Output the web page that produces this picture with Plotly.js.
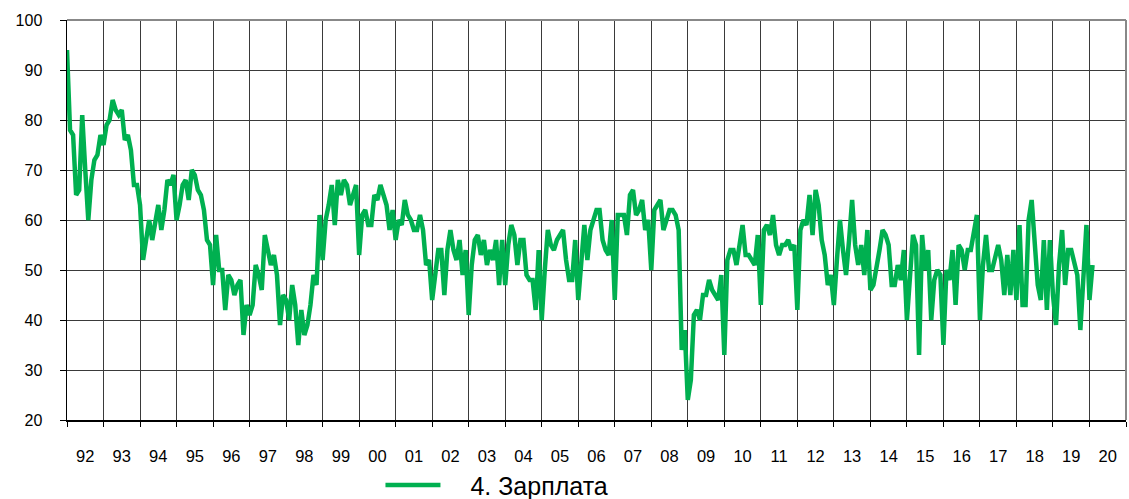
<!DOCTYPE html>
<html>
<head>
<meta charset="utf-8">
<script src="https://cdn.plot.ly/plotly-3.0.1.min.js"></script>
<style>html,body{margin:0;padding:0;background:#fff;}#chart{width:1129px;height:499px;}</style>
</head>
<body>
<div id="chart"></div>
<script>
// Year labels (category groups of 12 months each)
const yearLabels = ['92','93','94','95','96','97','98','99','00','01','02','03','04','05','06','07','08','09','10','11','12','13','14','15','16','17','18','19','20'];

// Monthly values, Jan 1992 .. Feb 2020
const salary = [
  // 1992
  94,78,77,65,66,81,70,60,68,72,73,77,
  // 1993
  75,79,80,84,82,81,82,76,77,74,67,67,
  // 1994
  63,52,56,60,56,60,63,58,62,68,67,69,
  // 1995
  60,63,67,68,64,70,69,66,65,62,56,55,
  // 1996
  47,57,50,50,42,49,48,45,47,48,37,43,
  // 1997
  41,43,51,49,46,57,54,51,53,49,39,45,
  // 1998
  44,40,47,43,35,42,37,39,43,49,47,61,
  // 1999
  52,60,63,67,59,68,65,68,67,63,65,67,
  // 2000
  53,61,62,59,59,65,64,67,65,63,58,62,
  // 2001
  56,60,59,64,61,60,58,58,61,58,51,52,
  // 2002
  44,50,54,54,45,54,58,54,52,56,49,54,
  // 2003
  41,51,56,57,53,56,51,54,52,56,47,56,
  // 2004
  47,55,59,57,51,56,56,49,48,48,42,54,
  // 2005
  40,50,58,55,54,56,57,58,52,48,48,56,
  // 2006
  44,53,59,52,58,60,62,62,56,54,53,60,
  // 2007
  44,61,61,61,57,65,66,61,62,64,58,60,
  // 2008
  50,62,63,64,58,60,62,62,61,58,34,38,
  // 2009
  24,28,41,42,40,45,45,48,46,45,44,49,
  // 2010
  33,52,54,54,51,55,59,53,53,52,51,57,
  // 2011
  43,58,59,57,61,55,53,55,55,56,54,55,
  // 2012
  42,58,60,59,65,57,66,63,56,53,47,49,
  // 2013
  43,52,60,54,49,56,64,55,51,55,49,58,
  // 2014
  46,47,50,54,58,57,55,47,47,51,48,54,
  // 2015
  40,50,57,55,33,57,50,54,40,48,50,49,
  // 2016
  35,50,48,54,43,55,54,50,54,54,58,61,
  // 2017
  40,51,57,50,50,53,55,52,45,53,45,54,
  // 2018
  44,59,43,43,60,64,55,47,44,56,42,56,
  // 2019
  45,39,51,58,47,54,54,51,49,38,50,59,
  // 2020
  44,51
];

const seriesName = '4. Зарплата';
const months = salary.map((_, i) => i);
const nYears = yearLabels.length;

const trace = {
  x: months,
  y: salary,
  type: 'scatter',
  mode: 'lines',
  // em space keeps the gap between the legend line and its text
  name: '\u2003' + seriesName,
  line: {color: '#00B050', width: 4.5, shape: 'linear'},
  hoverinfo: 'y'
};

const font = {family: 'Arial, "Liberation Sans", sans-serif', color: '#000'};

const layout = {
  width: 1129,
  height: 499,
  margin: {l: 67, r: 3, t: 20, b: 79, autoexpand: false},
  paper_bgcolor: '#fff',
  plot_bgcolor: '#fff',
  font: Object.assign({size: 16}, font),
  showlegend: true,
  legend: {
    orientation: 'h',
    x: 0.296, xanchor: 'left',
    y: -0.163, yanchor: 'middle',
    font: Object.assign({size: 25}, font),
    itemwidth: 55,
    bgcolor: 'rgba(0,0,0,0)'
  },
  xaxis: {
    range: [0, nYears * 12],
    tickmode: 'array',
    tickvals: yearLabels.map((_, i) => i * 12 + 6),
    ticktext: yearLabels,
    ticks: '',
    showgrid: false,
    zeroline: false,
    showline: true,
    linecolor: '#000',
    linewidth: 1.5,
    ticklabelstandoff: 21,
    tickfont: Object.assign({size: 16.5}, font),
    minor: {
      tickmode: 'linear',
      tick0: 0,
      dtick: 12,
      showgrid: true,
      gridcolor: '#3a3a3a',
      gridwidth: 1,
      ticks: 'outside',
      ticklen: 5,
      tickcolor: '#000'
    },
    fixedrange: true
  },
  yaxis: {
    range: [20, 100],
    tickmode: 'linear',
    tick0: 20,
    dtick: 10,
    showgrid: true,
    gridcolor: '#3a3a3a',
    gridwidth: 1,
    zeroline: false,
    showline: true,
    linecolor: '#000',
    linewidth: 1.5,
    ticks: 'outside',
    ticklen: 6,
    tickcolor: '#000',
    ticklabelstandoff: 14,
    tickfont: Object.assign({size: 16}, font),
    fixedrange: true
  },
  shapes: [
    {type: 'line', xref: 'paper', yref: 'paper', x0: 0, x1: 1, y0: 1, y1: 1, line: {color: '#888', width: 2}},
    {type: 'line', xref: 'paper', yref: 'paper', x0: 1, x1: 1, y0: 0, y1: 1, line: {color: '#888', width: 2}}
  ]
};

Plotly.newPlot('chart', [trace], layout, {displayModeBar: false, staticPlot: true});
</script>
</body>
</html>
